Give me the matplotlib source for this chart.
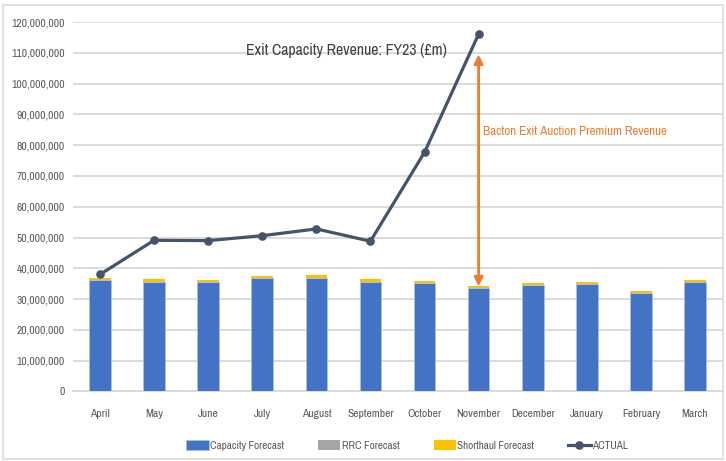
import matplotlib
matplotlib.use("Agg")
import matplotlib.pyplot as plt
from matplotlib.ticker import FuncFormatter, MultipleLocator
from matplotlib.patches import Rectangle
import numpy as np

plt.rcParams['font.family'] = ['Archivo Narrow', 'DejaVu Sans']

months = ["April", "May", "June", "July", "August", "September", "October",
          "November", "December", "January", "February", "March"]
# values in £m
capacity = [36.3, 35.7, 35.4, 36.7, 36.7, 35.4, 35.1, 33.5, 34.5, 34.8, 31.9, 35.4]
rrc = [0.0, 0.0, 0.0, 0.0, 0.0, 0.0, 0.0, 0.0, 0.0, 0.0, 0.0, 0.0]
shorthaul = [0.7, 0.7, 0.7, 0.7, 1.0, 1.0, 0.9, 0.6, 0.6, 0.6, 0.6, 0.7]
actual = [38.0, 49.1, 49.0, 50.6, 52.8, 48.8, 77.7, 116.1]

capacity = np.array(capacity) * 1e6
rrc = np.array(rrc) * 1e6
shorthaul = np.array(shorthaul) * 1e6
actual = np.array(actual) * 1e6

fig = plt.figure(figsize=(7.26, 4.61), dpi=100)
ax = fig.add_axes([0.1005, 0.151, 0.894, 0.801])

x = np.arange(len(months))
w = 0.4
b1 = ax.bar(x, capacity, w, color='#4472C4', edgecolor='#A9C0E8', linewidth=0.6,
            label='Capacity Forecast', zorder=3)
b2 = ax.bar(x, rrc, w, bottom=capacity, color='#A5A5A5', label='RRC Forecast', zorder=3)
b3 = ax.bar(x, shorthaul, w, bottom=capacity + rrc, color='#FFC000',
            label='Shorthaul Forecast', zorder=3.5)
l1, = ax.plot(x[:len(actual)], actual, color='#44546A', lw=2.3, marker='o', ms=5.2,
              label='ACTUAL', zorder=4)

ax.set_xlim(-0.5, len(months) - 0.5)
ax.set_ylim(0, 120e6)
ax.yaxis.set_major_locator(MultipleLocator(10e6))
ax.yaxis.set_major_formatter(FuncFormatter(lambda v, p: f"{int(v):,}"))
ax.set_xticks(x)
ax.set_xticklabels(months)
ax.tick_params(axis='both', length=0, labelsize=8.3, colors='#595959')
ax.tick_params(axis='x', pad=13)
ax.tick_params(axis='y', pad=6)
ax.grid(axis='y', color='#D9D9D9', lw=1.3, zorder=0)
for s in ['top', 'right', 'left']:
    ax.spines[s].set_visible(False)
ax.spines['bottom'].set_color('#D9D9D9')
ax.spines['bottom'].set_linewidth(1.3)

fig.text(346 / 726, 1 - 50 / 461, "Exit Capacity Revenue: FY23 (£m)", fontsize=11.4,
         color='#404040', ha='center', va='center')

# premium arrow for November
nov = months.index("November")
ax.annotate("", xy=(nov, capacity[nov] + rrc[nov] + shorthaul[nov]),
            xytext=(nov, 109.5e6),
            arrowprops=dict(arrowstyle='<|-|>', color='#ED7D31', lw=2,
                            mutation_scale=13, shrinkA=0, shrinkB=0))
ax.text(nov + 0.09, 84.5e6, "Bacton Exit Auction Premium Revenue", fontsize=9.3,
        color='#ED7D31', ha='left', va='center')

fig.legend([b1, b2, b3, l1], ['Capacity Forecast', 'RRC Forecast', 'Shorthaul Forecast', 'ACTUAL'],
           loc='center', ncol=4, frameon=False, fontsize=8,
           bbox_to_anchor=(407 / 726, 1 - 445.7 / 461), handlelength=2.0, handleheight=0.9,
           columnspacing=3.1, labelcolor='#595959', handletextpad=0.1)

fig.patches.append(Rectangle((0.004, 0.004), 0.992, 0.985, transform=fig.transFigure,
                             fill=False, edgecolor='#D9D9D9', lw=1.2))

fig.savefig("out.png", dpi=100)
